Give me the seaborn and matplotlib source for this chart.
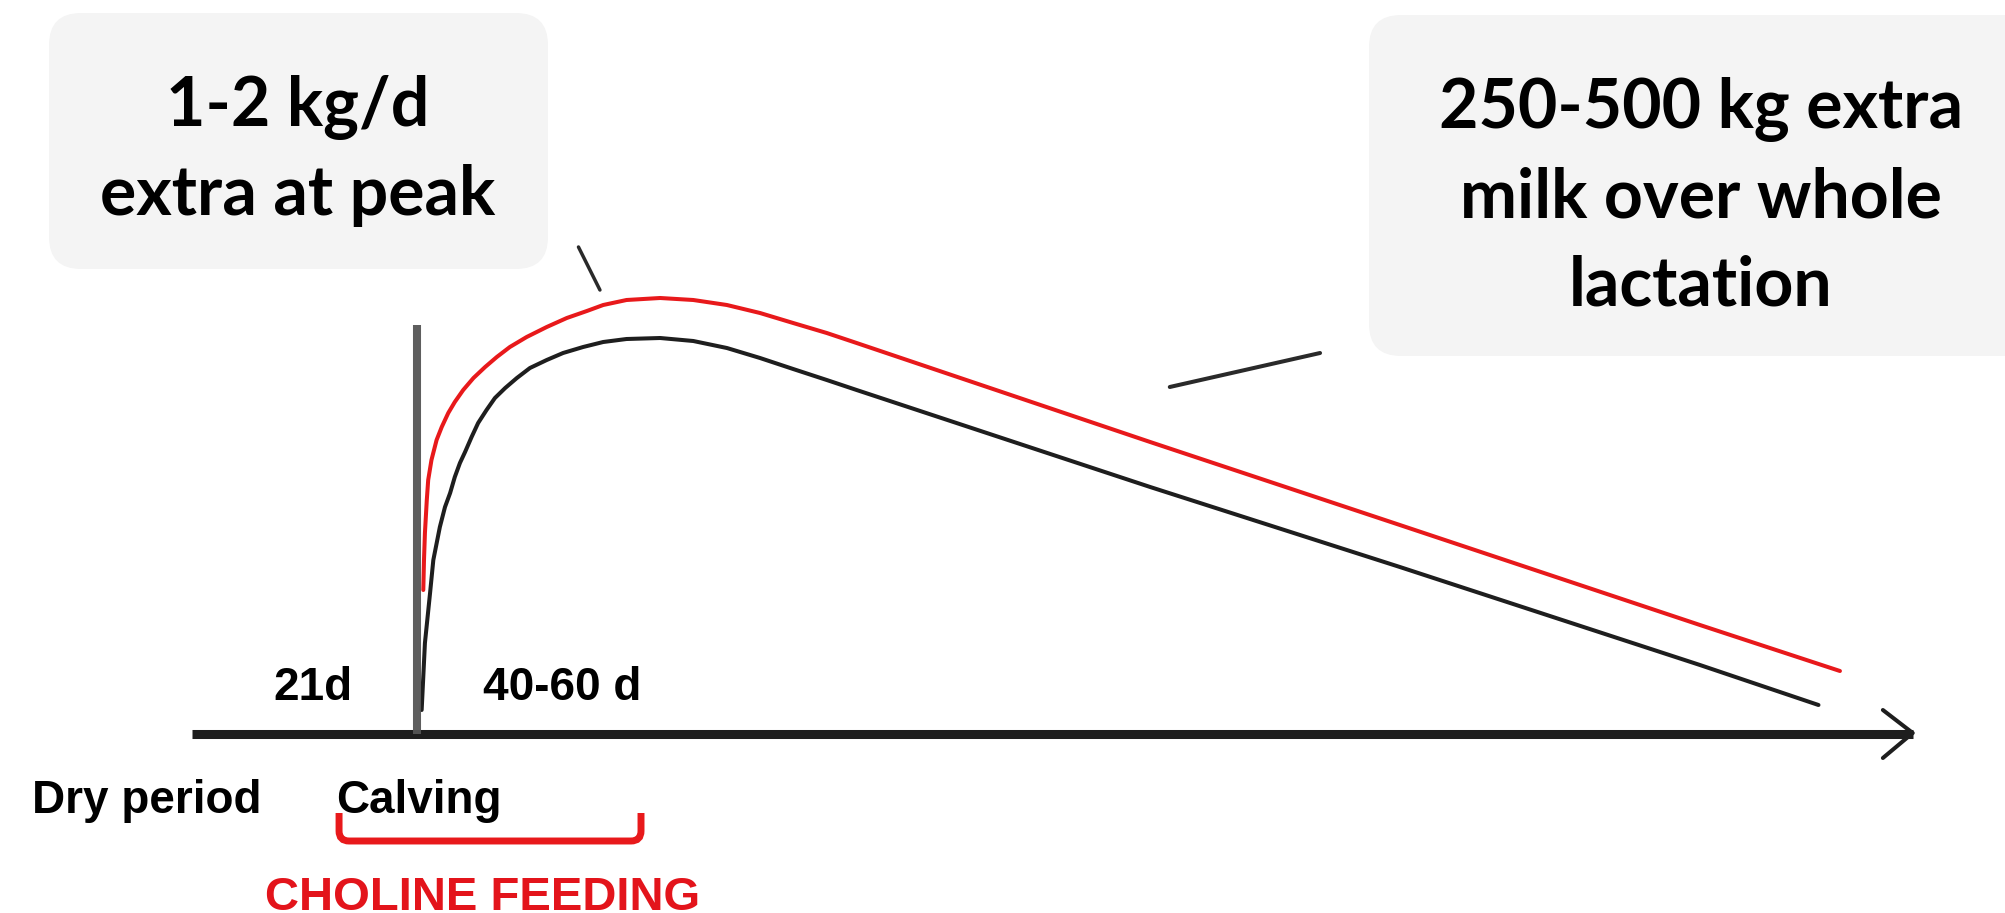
import numpy as np
import pandas as pd
import matplotlib
matplotlib.use("Agg")
import matplotlib.pyplot as plt
import seaborn as sns
from matplotlib.patches import FancyBboxPatch, PathPatch
from matplotlib.path import Path

control_days = [1.0, 1.7, 2.8, 3.5, 4.9, 6.0, 7.1, 8.1, 9.2, 10.3, 11.7, 13.1, 14.9, 16.7,
                18.9, 21.4, 24.2, 27.8, 31.3, 35.6, 39.9, 44.9, 52.1, 59.2, 66.4, 73.5,
                80.6, 87.8, 94.2, 157.1, 210.6, 274.9, 300.3]
control_milk = [2.4, 9.1, 14.1, 17.4, 20.7, 22.7, 24.1, 25.7, 27.1, 28.2, 29.7, 31.1, 32.4, 33.6,
                34.6, 35.6, 36.6, 37.4, 38.1, 38.7, 39.2, 39.5, 39.6, 39.3, 38.6, 37.6,
                36.5, 35.4, 34.4, 24.7, 16.7, 6.9, 2.9]

choline_days = [1.35, 1.5, 1.7, 2.1, 2.4, 3.1, 4.2, 5.3, 6.7, 8.1, 9.9, 12.1, 14.6, 17.1,
                19.9, 23.5, 27.8, 32.1, 36.4, 39.9, 44.9, 52.1, 59.2, 66.4, 73.5, 80.6,
                87.8, 94.2, 157.1, 210.6, 274.9, 304.9]
choline_milk = [14.4, 17.4, 20.1, 23.4, 25.4, 27.4, 29.4, 30.7, 32.1, 33.2, 34.4, 35.6, 36.7, 37.7,
                38.7, 39.7, 40.7, 41.6, 42.3, 42.9, 43.4, 43.6, 43.4, 42.9, 42.1, 41.1,
                40.1, 39.1, 29.2, 20.9, 10.9, 6.3]

# time axis and markers
dry_start = -48.2
axis_end = 320.5
calving_day = 0
calving_top = 40.9
feeding_start = -16.7
feeding_end = 48.0

# pointer strokes from the callout boxes
peak_pointer_x = [34.6, 39.2]
peak_pointer_y = [48.7, 44.4]
total_pointer_x = [161.3, 193.5]
total_pointer_y = [34.7, 38.1]

RED = "#e8191b"
DARK = "#1e1e1e"

df = pd.DataFrame({
    "day": control_days + choline_days,
    "milk": control_milk + choline_milk,
    "group": ["Control"] * len(control_days) + ["Choline"] * len(choline_days),
})

sns.set_theme(style="white")
fig = plt.figure(figsize=(20.06, 9.13), dpi=100)
ax = fig.add_axes([0, 0, 1, 1])
ax.set_xlim(-89.35, 340.48)
ax.set_ylim(-17.9, 73.4)
ax.axis("off")

# callout boxes (in inches so the corners stay round)
fig.patches.append(FancyBboxPatch((0.49, 6.44), 4.99, 2.56,
                                  boxstyle="round,pad=0,rounding_size=0.32",
                                  transform=fig.dpi_scale_trans, fc="#f4f4f4", ec="none", zorder=0))
fig.patches.append(FancyBboxPatch((13.69, 5.57), 7.0, 3.41,
                                  boxstyle="round,pad=0,rounding_size=0.32",
                                  transform=fig.dpi_scale_trans, fc="#f4f4f4", ec="none", zorder=0))

sns.lineplot(data=df, x="day", y="milk", hue="group", palette={"Control": DARK, "Choline": RED},
             sort=False, estimator=None, linewidth=2.9, legend=False, ax=ax)
for ln in ax.lines:
    ln.set_solid_joinstyle("round")

# axis with arrow head
ax.plot([dry_start, axis_end], [0, 0], color=DARK, lw=6.5, solid_capstyle="butt", zorder=3)
ax.plot([axis_end - 6.4, axis_end, axis_end - 6.4], [2.4, 0.1, -2.4], color=DARK, lw=2.9, zorder=3)
ax.plot([calving_day, calving_day], [0, calving_top], color="#555555", lw=5.8,
        solid_capstyle="butt", alpha=0.95, zorder=4)

ax.plot(peak_pointer_x, peak_pointer_y, color="#2a2a2a", lw=2.5)
ax.plot(total_pointer_x, total_pointer_y, color="#2a2a2a", lw=2.9)

# choline feeding bracket
rx, ry = 2.14, 1.0
top, bot = -7.9, -10.7
verts = [(feeding_start, top), (feeding_start, bot + ry), (feeding_start, bot), (feeding_start + rx, bot),
         (feeding_end - rx, bot), (feeding_end, bot), (feeding_end, bot + ry), (feeding_end, top)]
codes = [Path.MOVETO, Path.LINETO, Path.CURVE3, Path.CURVE3, Path.LINETO, Path.CURVE3, Path.CURVE3, Path.LINETO]
ax.add_patch(PathPatch(Path(verts, codes), fill=False, ec=RED, lw=5))

box_font = ["Lato", "DejaVu Sans"]
lab_font = ["Liberation Sans", "DejaVu Sans"]
W, H = 2006, 913

def put(x, y, s, color="black", **kw):
    fig.text(x / W, 1 - y / H, s, va="baseline", color=color, **kw)

put(298, 126, "1-2 kg/d", ha="center", family=box_font, weight="bold", fontsize=49)
put(298, 215, "extra at peak", ha="center", family=box_font, weight="bold", fontsize=49)
put(1701, 128, "250-500 kg extra", ha="center", family=box_font, weight="bold", fontsize=49)
put(1701, 217, "milk over whole", ha="center", family=box_font, weight="bold", fontsize=49)
put(1701, 305, "lactation", ha="center", family=box_font, weight="bold", fontsize=49)

put(313, 700, "21d", ha="center", family=lab_font, weight="bold", fontsize=33)
put(562, 700, "40-60 d", ha="center", family=lab_font, weight="bold", fontsize=33)
put(32, 813, "Dry period", ha="left", family=lab_font, weight="bold", fontsize=33)
put(336, 813, "Calving", ha="left", family=lab_font, weight="bold", fontsize=33)
put(483, 910, "CHOLINE FEEDING", ha="center", family=lab_font, weight="bold", fontsize=34, color="#e3141b")

fig.savefig("out.png", dpi=100)
